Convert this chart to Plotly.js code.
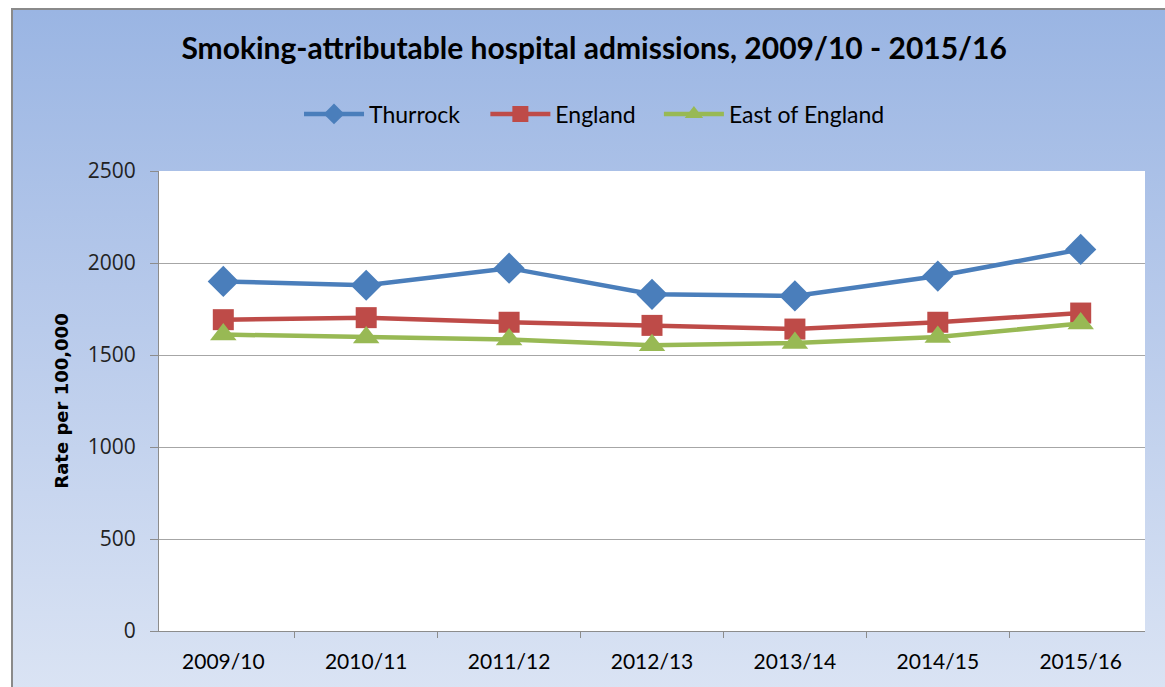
<!DOCTYPE html>
<html>
<head>
<meta charset="utf-8">
<script src="https://cdn.plot.ly/plotly-3.0.1.min.js"></script>
<style>
html,body{margin:0;padding:0;background:#ffffff;width:1165px;height:687px;overflow:hidden;}
#bg{position:absolute;left:11px;top:8px;width:1170px;height:690px;border-left:2px solid #8a8a8a;border-top:2px solid #8a8a8a;background:linear-gradient(to bottom,#9ab5e3 0%,#b5c8ea 40%,#dbe4f4 100%);}
#chart{position:absolute;left:0;top:0;width:1165px;height:687px;}
</style>
</head>
<body>
<div id="bg"></div>
<div id="chart"></div>
<script>
var years = ["2009/10","2010/11","2011/12","2012/13","2013/14","2014/15","2015/16"];
var thurrock = [1900, 1879, 1972, 1830, 1821, 1929, 2074];
var england = [1692, 1703, 1678, 1661, 1641, 1678, 1728];
var eastOfEngland = [1611, 1595, 1584, 1553, 1565, 1598, 1671];
var tickVals = [0, 500, 1000, 1500, 2000, 2500];

var traces = [
  {x: years, y: thurrock, name: "Thurrock", type: "scatter", mode: "lines+markers", legend: "legend",
   line: {color: "#4a7ebb", width: 4.5}, marker: {symbol: "diamond", size: 24, color: "#4a7ebb"}},
  {x: years, y: england, name: "England", type: "scatter", mode: "lines+markers", legend: "legend2",
   line: {color: "#be4b48", width: 4.5}, marker: {symbol: "square", size: 21, color: "#be4b48"}},
  {x: years, y: eastOfEngland, name: "East of England", type: "scatter", mode: "lines+markers", legend: "legend3",
   line: {color: "#98b954", width: 4.5}, marker: {symbol: "triangle-up", size: 23, color: "#98b954"}}
];

function leg(xpos) {
  return {orientation: "h", x: xpos, xanchor: "left", y: 1.124, yanchor: "middle",
          font: {family: "Lato, 'Open Sans', sans-serif", size: 23, color: "#000000"},
          bgcolor: "rgba(0,0,0,0)", itemwidth: 60};
}

var layout = {
  width: 1165, height: 687,
  paper_bgcolor: "rgba(0,0,0,0)",
  plot_bgcolor: "#ffffff",
  margin: {l: 159, r: 20, t: 171, b: 56},
  title: {text: "<b>Smoking-attributable hospital admissions, 2009/10 - 2015/16</b>",
          font: {family: "Lato, 'Open Sans', sans-serif", size: 30, color: "#000000"},
          x: 0.51, xanchor: "center", y: 0.93, yanchor: "middle"},
  showlegend: true,
  legend: leg(0.142),
  legend2: leg(0.331),
  legend3: leg(0.507),
  xaxis: {type: "category", showgrid: false, showline: true, linecolor: "#8c8c8c", linewidth: 1,
          ticks: "outside", tickson: "boundaries", ticklen: 6, tickcolor: "#8c8c8c",
          ticklabelstandoff: 12,
          tickfont: {family: "Lato, sans-serif", size: 21, color: "#000000"}, fixedrange: true},
  yaxis: {range: [0, 2500], tickvals: tickVals, ticktext: tickVals.map(String),
          showgrid: true, gridcolor: "#a6a6a6", gridwidth: 1, zeroline: false,
          showline: true, linecolor: "#8c8c8c", linewidth: 1,
          ticks: "outside", ticklen: 8, tickcolor: "#8c8c8c", ticklabelstandoff: 10,
          tickfont: {family: "'Open Sans', sans-serif", size: 21, color: "#222222"},
          title: {text: "<b>Rate per 100,000</b>", standoff: 14,
                  font: {family: "'DejaVu Sans', sans-serif", size: 18, color: "#000000"}}}
};

Plotly.newPlot("chart", traces, layout, {displayModeBar: false, staticPlot: true});
</script>
</body>
</html>
